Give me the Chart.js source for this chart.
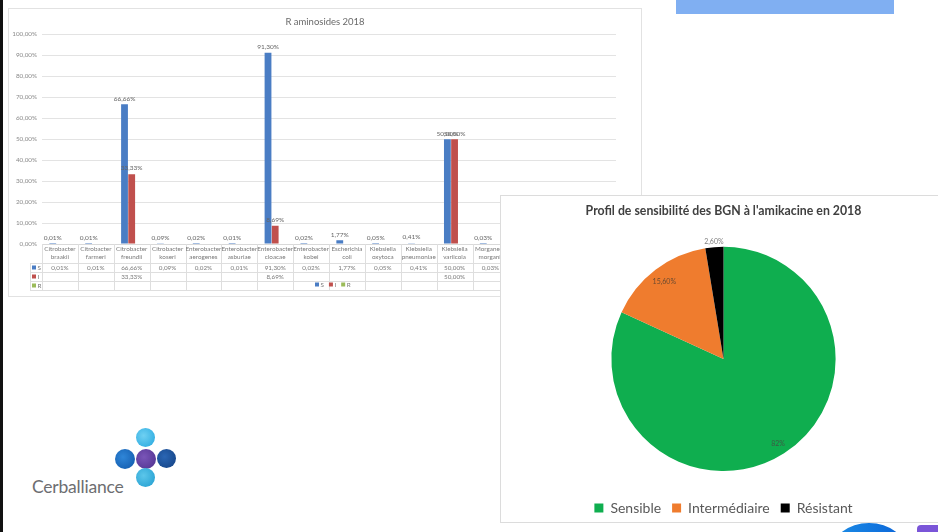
<!DOCTYPE html>
<html><head><meta charset="utf-8">
<script src="https://cdn.jsdelivr.net/npm/chart.js@4.4.0/dist/chart.umd.min.js"></script>
<style>
html,body{margin:0;padding:0;background:#fff;width:938px;height:532px;overflow:hidden;position:relative;font-family:Lato,sans-serif}
#stripe{position:absolute;left:0;top:0;width:3px;height:532px;background:#111}
#topRect{position:absolute;left:676px;top:0;width:218px;height:14px;background:#80aff2}
#barPanel{position:absolute;left:8px;top:8px;width:632px;height:287px;border:1px solid #e2e2e2;background:#fff}
#barCanvas{position:absolute;left:0;top:0}
#piePanel{position:absolute;left:500px;top:195px;width:438px;height:326px;border:1px solid #dcdcdc;border-right:none;background:#fff;overflow:hidden}
#pieCanvas{position:absolute;left:0;top:0}
.dot{position:absolute;border-radius:50%}
#logoText{position:absolute;left:32px;top:476px;font-family:Lato,sans-serif;font-size:17.5px;color:#6d6e71;letter-spacing:-0.2px}
#blueBlob{position:absolute;left:831px;top:523px;width:76px;height:60px;border-radius:50%;background:linear-gradient(90deg,#1d8ee6,#0a63d8)}
#purpleBlob{position:absolute;left:917px;top:525px;width:30px;height:20px;border-radius:4px;background:#7a55d8}
</style>
</head><body>
<div id="stripe"></div>
<div id="topRect"></div>
<div id="barPanel"><canvas id="barCanvas" width="632" height="287"></canvas></div>
<div id="blueBlob"></div>
<div id="purpleBlob"></div>
<div id="piePanel"><canvas id="pieCanvas" width="438" height="329"></canvas></div>

<div class="dot" style="left:136px;top:428px;width:19px;height:19px;background:radial-gradient(circle at 40% 40%,#6fd0f2,#23a6de)"></div>
<div class="dot" style="left:115px;top:449px;width:20px;height:20px;background:radial-gradient(circle at 40% 40%,#2f86d8,#0f56a8)"></div>
<div class="dot" style="left:136px;top:449px;width:20px;height:20px;background:radial-gradient(circle at 40% 40%,#7a55b8,#4d2f8c)"></div>
<div class="dot" style="left:157px;top:449px;width:19px;height:19px;background:radial-gradient(circle at 40% 40%,#2a66b4,#123f80)"></div>
<div class="dot" style="left:136px;top:468px;width:19px;height:19px;background:radial-gradient(circle at 40% 40%,#5cc6ea,#1f9ccf)"></div>
<div id="logoText">Cerballiance</div>

<script>
// ---------- DATA ----------
const barCategories = [
  "Citrobacter braakii","Citrobacter farmeri","Citrobacter freundii","Citrobacter koseri",
  "Enterobacter aerogenes","Enterobacter asburiae","Enterobacter cloacae","Enterobacter kobei",
  "Escherichia coli","Klebsiella oxytoca","Klebsiella pneumoniae","Klebsiella variicola",
  "Morganella morganii","","",""
];
const seriesS = [0.01,0.01,66.66,0.09,0.02,0.01,91.30,0.02,1.77,0.05,0.41,50.00,0.03,null,null,null];
const seriesI = [null,null,33.33,null,null,null,8.69,null,null,null,null,50.00,null,null,null,null];
const seriesR = [null,null,null,null,null,null,null,null,null,null,null,null,null,null,null,null];
const seriesNames = ["S","I","R"];
const yTicks = [0,10,20,30,40,50,60,70,80,90,100];

const pieLabels = ["Sensible","Intermédiaire","Résistant"];
const pieValues = [82, 15.60, 2.60];
const pieDecimals = [0, 2, 2];

// ---------- HELPERS ----------
const fr = (v, d) => v.toFixed(d).replace('.', ',') + '%';
const FONT = 'Lato, sans-serif';

// ---------- BAR CHART ----------
const barColors = ['#4a7dc4', '#c0504d', '#9bbb59'];

const barLabelPlugin = {
  id: 'barLabels',
  afterDatasetsDraw(chart) {
    const ctx = chart.ctx;
    ctx.save();
    ctx.font = '6.5px ' + FONT;
    ctx.fillStyle = '#666666';
    ctx.textAlign = 'center';
    ctx.textBaseline = 'bottom';
    chart.data.datasets.forEach((ds, di) => {
      chart.getDatasetMeta(di).data.forEach((bar, i) => {
        const v = ds.data[i];
        if (v == null) return;
        ctx.fillText(fr(v, 2), bar.x, bar.y - 2.5);
      });
    });
    ctx.restore();
  }
};

const tablePlugin = {
  id: 'dataTable',
  afterDraw(chart) {
    const ctx = chart.ctx;
    const xs = chart.scales.x, ys = chart.scales.y;
    const n = chart.data.labels.length;
    const colW = (xs.right - xs.left) / n;
    const y0 = ys.bottom;
    const rows = [y0 + 19, y0 + 28, y0 + 37, y0 + 46];
    const hdrL = xs.left - 12;
    ctx.save();
    ctx.strokeStyle = '#dedede';
    ctx.lineWidth = 1;
    rows.forEach(y => {
      ctx.beginPath();
      ctx.moveTo(hdrL, Math.round(y) + 0.5);
      ctx.lineTo(xs.right, Math.round(y) + 0.5);
      ctx.stroke();
    });
    for (let i = 0; i <= n; i++) {
      const x = Math.round(xs.left + i * colW) + 0.5;
      ctx.beginPath();
      ctx.moveTo(x, y0);
      ctx.lineTo(x, rows[3]);
      ctx.stroke();
    }
    ctx.beginPath();
    ctx.moveTo(hdrL + 0.5, rows[0]);
    ctx.lineTo(hdrL + 0.5, rows[3]);
    ctx.stroke();
    ctx.font = '6.3px ' + FONT;
    ctx.fillStyle = '#7a7a7a';
    ctx.textAlign = 'center';
    ctx.textBaseline = 'middle';
    chart.data.labels.forEach((lab, i) => {
      if (!lab) return;
      const cx = xs.left + (i + 0.5) * colW;
      const parts = lab.split(' ');
      ctx.fillText(parts[0], cx, y0 + 5);
      if (parts[1]) ctx.fillText(parts.slice(1).join(' '), cx, y0 + 13);
    });
    chart.data.datasets.forEach((ds, di) => {
      const cy = rows[di] + 4.5;
      ds.data.forEach((v, i) => {
        if (v == null) return;
        ctx.fillText(fr(v, 2), xs.left + (i + 0.5) * colW, cy);
      });
      ctx.fillStyle = ds.backgroundColor;
      ctx.fillRect(hdrL + 2, cy - 2, 4, 4);
      ctx.fillStyle = '#7a7a7a';
      ctx.textAlign = 'left';
      ctx.fillText(ds.label, hdrL + 7.5, cy);
      ctx.textAlign = 'center';
    });
    let lx = (xs.left + xs.right) / 2 - 14;
    const ly = y0 + 40.5;
    ctx.textAlign = 'left';
    chart.data.datasets.forEach(ds => {
      ctx.fillStyle = ds.backgroundColor;
      ctx.fillRect(lx, ly - 2, 4, 4);
      ctx.fillStyle = '#7a7a7a';
      ctx.fillText(ds.label, lx + 5.5, ly);
      lx += 5.5 + ctx.measureText(ds.label).width + 5;
    });
    ctx.restore();
  }
};

new Chart(document.getElementById('barCanvas'), {
  type: 'bar',
  data: {
    labels: barCategories,
    datasets: [
      { label: seriesNames[0], data: seriesS, backgroundColor: barColors[0] },
      { label: seriesNames[1], data: seriesI, backgroundColor: barColors[1] },
      { label: seriesNames[2], data: seriesR, backgroundColor: barColors[2] }
    ]
  },
  options: {
    responsive: false,
    devicePixelRatio: 1,
    animation: false,
    events: [],
    datasets: { bar: { categoryPercentage: 0.6, barPercentage: 0.95 } },
    layout: { padding: { left: 0, right: 0, top: 0, bottom: 52 } },
    plugins: {
      legend: { display: false },
      tooltip: { enabled: false },
      title: {
        display: true, text: 'R aminosides 2018',
        color: '#6a6a6a', font: { family: FONT, size: 9.5, weight: 'normal' },
        padding: { top: 7, bottom: 7 }
      }
    },
    scales: {
      x: {
        ticks: { display: false },
        grid: { display: false, drawTicks: false },
        border: { display: true, color: '#d9d9d9' }
      },
      y: {
        min: 0, max: 100,
        afterFit(s) { s.width = 33; },
        afterBuildTicks(s) { s.ticks = yTicks.map(v => ({ value: v })); },
        ticks: {
          padding: 5, color: '#8a8a8a', font: { family: FONT, size: 6.3 },
          callback: v => fr(v, 2)
        },
        grid: { color: '#e3e3e3', drawTicks: false },
        border: { display: false }
      },
      yRightSpace: {
        type: 'linear', position: 'right', min: 0, max: 100,
        afterFit(s) { s.width = 25; },
        ticks: { display: false },
        grid: { display: false, drawTicks: false },
        border: { display: false }
      }
    }
  },
  plugins: [barLabelPlugin, tablePlugin]
});

// ---------- PIE CHART ----------
const pieColors = ['#0fae4f', '#ef7c2e', '#000000'];
const pieLabelRadius = [0.9, 0.87, 1.05];
const pieLabelColors = ['#3d5a45', '#6a4a30', '#808080'];

const pieLabelPlugin = {
  id: 'pieLabels',
  afterDatasetsDraw(chart) {
    const ctx = chart.ctx;
    ctx.save();
    ctx.font = '7px ' + FONT;
    ctx.textAlign = 'center';
    ctx.textBaseline = 'middle';
    chart.getDatasetMeta(0).data.forEach((arc, i) => {
      const mid = (arc.startAngle + arc.endAngle) / 2;
      const r = arc.outerRadius * pieLabelRadius[i];
      ctx.fillStyle = pieLabelColors[i];
      ctx.fillText(fr(pieValues[i], pieDecimals[i]), arc.x + Math.cos(mid) * r, arc.y + Math.sin(mid) * r);
    });
    ctx.restore();
  }
};

new Chart(document.getElementById('pieCanvas'), {
  type: 'pie',
  data: {
    labels: pieLabels,
    datasets: [{ data: pieValues, backgroundColor: pieColors, borderWidth: 0 }]
  },
  options: {
    responsive: false,
    devicePixelRatio: 1,
    animation: false,
    events: [],
    layout: { padding: { left: 7, right: 0, top: 0, bottom: 0 } },
    plugins: {
      tooltip: { enabled: false },
      title: {
        display: true, text: "Profil de sensibilité des BGN à l'amikacine en 2018",
        color: '#404040', font: { family: FONT, size: 12.3, weight: 'bold' },
        padding: { top: 8, bottom: 28 }
      },
      legend: {
        position: 'bottom',
        title: { display: true, text: ' ', font: { size: 10 }, padding: { top: 7, bottom: 0 } },
        labels: {
          boxWidth: 9, boxHeight: 9, padding: 11,
          color: '#595959', font: { family: FONT, size: 14 }
        }
      }
    }
  },
  plugins: [pieLabelPlugin]
});
</script>
</body></html>
